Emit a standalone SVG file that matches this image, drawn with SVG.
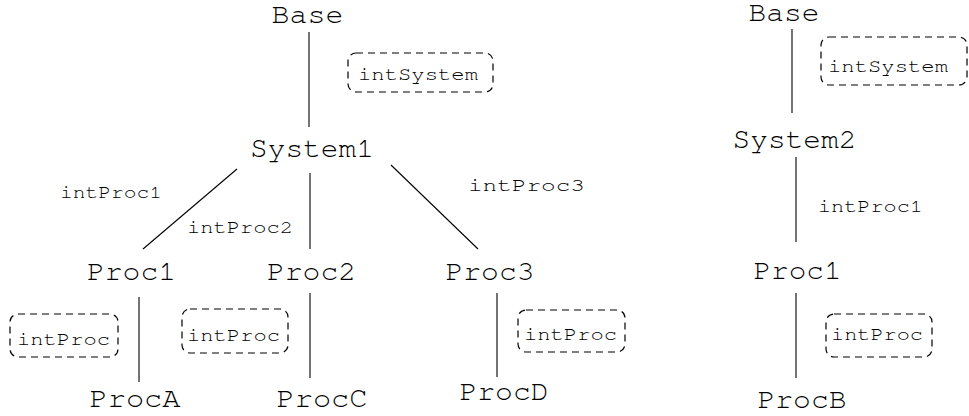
<svg xmlns="http://www.w3.org/2000/svg" width="969" height="416" viewBox="0 0 969 416">
<style>
.n{font-family:"Nimbus Mono PS","Nimbus Mono L","FreeMono","Courier","Liberation Mono",monospace;font-size:28px;fill:#000;text-anchor:middle}
.l{font-family:"Nimbus Mono PS","Nimbus Mono L","FreeMono","Courier","Liberation Mono",monospace;font-size:19px;fill:#000}
.c line{stroke:#000;stroke-width:1.1}
.b{fill:none;stroke:#000;stroke-width:1.2;stroke-dasharray:7 5}
</style>
<rect width="969" height="416" fill="#fff"/>
<g class="c" id="connectors">
<line x1="309" y1="32" x2="309" y2="127"/>
<line x1="237" y1="169" x2="143" y2="249"/>
<line x1="310" y1="173" x2="310" y2="249"/>
<line x1="391" y1="165" x2="478" y2="249"/>
<line x1="139" y1="297" x2="139" y2="382"/>
<line x1="310" y1="293" x2="310" y2="378"/>
<line x1="497" y1="293" x2="497" y2="377"/>
<line x1="792" y1="29" x2="792" y2="113"/>
<line x1="796" y1="157" x2="796" y2="242"/>
<line x1="796" y1="293" x2="796" y2="378"/>
</g>
<g id="edge-labels">
<text class="l" x="60" y="198" textLength="102" lengthAdjust="spacingAndGlyphs">intProc1</text>
<text class="l" x="187" y="233" textLength="106" lengthAdjust="spacingAndGlyphs">intProc2</text>
<text class="l" x="468" y="191" textLength="117" lengthAdjust="spacingAndGlyphs">intProc3</text>
<text class="l" x="818" y="212" textLength="105" lengthAdjust="spacingAndGlyphs">intProc1</text>
</g>
<g id="box-intSystem-1"><rect class="b" x="348" y="53" width="145" height="39" rx="8"/><text class="l" x="358" y="80" textLength="120" lengthAdjust="spacingAndGlyphs">intSystem</text></g>
<g id="box-intProc-1"><rect class="b" x="10" y="314" width="108" height="43" rx="8"/><text class="l" x="17" y="345" textLength="93" lengthAdjust="spacingAndGlyphs">intProc</text></g>
<g id="box-intProc-2"><rect class="b" x="182" y="309" width="106" height="44" rx="8"/><text class="l" x="187" y="341" textLength="93" lengthAdjust="spacingAndGlyphs">intProc</text></g>
<g id="box-intProc-3"><rect class="b" x="518" y="310" width="107" height="42" rx="8"/><text class="l" x="524" y="340" textLength="93" lengthAdjust="spacingAndGlyphs">intProc</text></g>
<g id="box-intSystem-2"><rect class="b" x="821" y="37" width="146" height="48" rx="8"/><text class="l" x="828" y="72" textLength="120" lengthAdjust="spacingAndGlyphs">intSystem</text></g>
<g id="box-intProc-4"><rect class="b" x="826" y="314" width="106" height="43" rx="8"/><text class="l" x="831" y="340" textLength="92" lengthAdjust="spacingAndGlyphs">intProc</text></g>
<g id="Base1"><text class="n" x="307.5" y="23" textLength="72" lengthAdjust="spacingAndGlyphs">Base</text></g>
<g id="System1"><text class="n" x="312" y="157" textLength="124" lengthAdjust="spacingAndGlyphs">System1</text></g>
<g id="Proc1"><text class="n" x="131.5" y="280" textLength="89" lengthAdjust="spacingAndGlyphs">Proc1</text></g>
<g id="Proc2"><text class="n" x="311.5" y="280" textLength="89" lengthAdjust="spacingAndGlyphs">Proc2</text></g>
<g id="Proc3"><text class="n" x="490" y="280" textLength="89" lengthAdjust="spacingAndGlyphs">Proc3</text></g>
<g id="ProcA"><text class="n" x="135" y="407" textLength="91" lengthAdjust="spacingAndGlyphs">ProcA</text></g>
<g id="ProcC"><text class="n" x="322" y="407" textLength="91" lengthAdjust="spacingAndGlyphs">ProcC</text></g>
<g id="ProcD"><text class="n" x="504" y="400" textLength="89" lengthAdjust="spacingAndGlyphs">ProcD</text></g>
<g id="Base2"><text class="n" x="784" y="21" textLength="71" lengthAdjust="spacingAndGlyphs">Base</text></g>
<g id="System2"><text class="n" x="794.5" y="148" textLength="124" lengthAdjust="spacingAndGlyphs">System2</text></g>
<g id="Proc1b"><text class="n" x="797.5" y="279" textLength="88" lengthAdjust="spacingAndGlyphs">Proc1</text></g>
<g id="ProcB"><text class="n" x="802" y="408" textLength="89" lengthAdjust="spacingAndGlyphs">ProcB</text></g>
</svg>
